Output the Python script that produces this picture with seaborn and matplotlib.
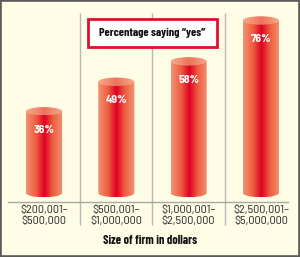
import numpy as np
import pandas as pd
import matplotlib
matplotlib.use("Agg")
import matplotlib.pyplot as plt
import seaborn as sns
from matplotlib.colors import LinearSegmentedColormap
from matplotlib.patches import Rectangle, Ellipse, PathPatch
from matplotlib.path import Path

# ---- data ----
categories = ["$200,001–\n$500,000", "$500,001–\n$1,000,000",
              "$1,000,001–\n$2,500,000", "$2,500,001–\n$5,000,000"]
values = [36, 49, 58, 76]
value_labels = ["36%", "49%", "58%", "76%"]
title_text = "Percentage saying \u201cyes\u201d"
xlabel_text = "Size of firm in dollars"

sns.set_theme(style="white")
plt.rcParams["text.parse_math"] = False
SEMI = ["Barlow Semi Condensed", "DejaVu Sans"]
COND = ["Barlow Condensed", "DejaVu Sans"]
plt.rcParams["font.family"] = SEMI

W, H = 300, 257
BG = "#FFFDE6"
fig = plt.figure(figsize=(W / 100, H / 100), dpi=100, facecolor=BG)

ax_left, ax_right, ax_top, ax_bot = 8, 288, 13, 202
ax = fig.add_axes([ax_left / W, 1 - ax_bot / H, (ax_right - ax_left) / W, (ax_bot - ax_top) / H])
ax.set_facecolor("none")

df = pd.DataFrame({"size": categories, "pct": values})
sns.barplot(data=df, x="size", y="pct", width=0.5, color="#E02030", ax=ax)

px_per_unit = 2.27
xlim = (-0.498, 3.375)
ylim = (-9 / px_per_unit, (193 - ax_top) / px_per_unit)
ax.set_xlim(*xlim)
ax.set_ylim(*ylim)

body_cmap = LinearSegmentedColormap.from_list(
    "body", [(0.0, (0.95, 0.58, 0.45)), (0.28, (0.93, 0.36, 0.25)),
             (0.5, (0.87, 0.0, 0.14)), (0.72, (0.93, 0.36, 0.25)),
             (1.0, (0.95, 0.58, 0.45))])
top_cmap = LinearSegmentedColormap.from_list(
    "top", [(0.0, (0.96, 0.68, 0.55)), (0.5, (0.93, 0.45, 0.36)),
            (1.0, (0.96, 0.68, 0.55))])
grad = np.linspace(0, 1, 256).reshape(1, -1)
ry = 4.2 / px_per_unit

for p, lab in zip(list(ax.patches), value_labels):
    x0, w, h = p.get_x(), p.get_width(), p.get_height()
    cx = x0 + w / 2
    p.set_visible(False)
    th = np.linspace(np.pi, 2 * np.pi, 60)
    verts = [(x0, h), (x0, 0)] + [(cx + w / 2 * np.cos(t), ry * np.sin(t)) for t in th] + [(x0 + w, h), (x0, h)]
    codes = [Path.MOVETO] + [Path.LINETO] * (len(verts) - 2) + [Path.CLOSEPOLY]
    body = PathPatch(Path(verts, codes), transform=ax.transData, facecolor="none", edgecolor="none")
    ax.add_patch(body)
    im = ax.imshow(grad, cmap=body_cmap, extent=[x0, x0 + w, -ry, h], aspect="auto", zorder=2)
    im.set_clip_path(body)
    topc = Ellipse((cx, h), w, 2 * ry, transform=ax.transData, facecolor="none", edgecolor="none")
    ax.add_patch(topc)
    im2 = ax.imshow(grad, cmap=top_cmap, extent=[x0, x0 + w, h - ry, h + ry], aspect="auto", zorder=3)
    im2.set_clip_path(topc)
    ax.text(cx, h - 18.5 / px_per_unit, lab, color="white", fontsize=8.5, fontweight="bold",
            ha="center", va="center", zorder=4, family=SEMI)

ax.set_xlim(*xlim)
ax.set_ylim(*ylim)

ax.vlines([0.5, 1.5, 2.5], ymin=ylim[0] - 23 / px_per_unit, ymax=ylim[1],
          colors="#b9b9b2", linewidth=1, clip_on=False, zorder=1)

for s in ["top", "left", "right"]:
    ax.spines[s].set_visible(False)
ax.spines["bottom"].set_color("#a9a9a2")
ax.spines["bottom"].set_linewidth(1)
ax.set_yticks([])
ax.set_ylabel("")
ax.set_xlabel("")
ax.tick_params(axis="x", length=0, pad=2.5, labelsize=8.8, labelcolor="#2a2a2a")
for t in ax.get_xticklabels():
    t.set_linespacing(1.02)
    t.set_family(SEMI)

# title box
bx0, bx1, by0, by1 = 88, 217, 19, 47
fig.patches.append(Rectangle((bx0 / W, 1 - by1 / H), (bx1 - bx0) / W, (by1 - by0) / H,
                             transform=fig.transFigure, facecolor="white",
                             edgecolor="#DD1030", linewidth=2, zorder=5))
fig.text((bx0 + bx1) / 2 / W, 1 - 33 / H, title_text, ha="center", va="center",
         fontsize=8.6, fontweight="bold", color="#111111", zorder=6, family=COND)

fig.text(150.5 / W, 1 - 240 / H, xlabel_text, ha="center", va="center",
         fontsize=8.8, fontweight="bold", color="#111111", family=COND)

fig.patches.append(Rectangle((0, 0), 1, 1, transform=fig.transFigure, fill=False,
                             edgecolor="#5a5a58", linewidth=2.6, zorder=10))

fig.savefig("out.png", dpi=100, facecolor=BG)
